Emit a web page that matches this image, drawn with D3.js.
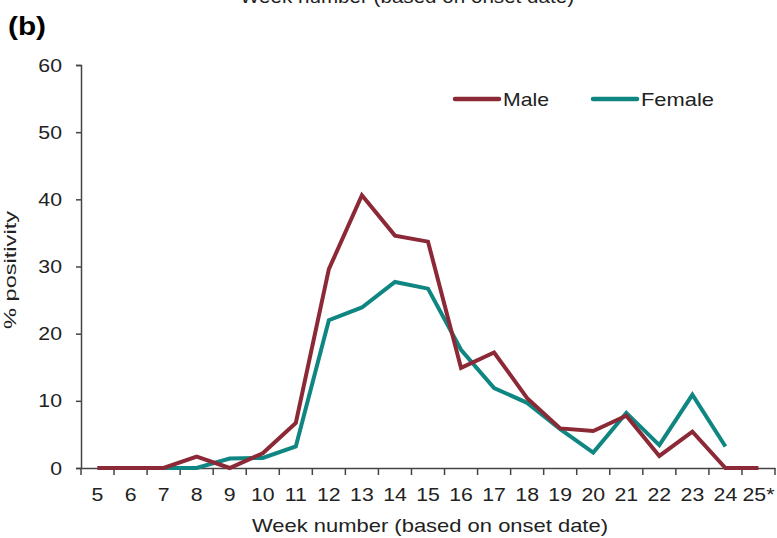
<!DOCTYPE html>
<html>
<head>
<meta charset="utf-8">
<script src="https://cdn.jsdelivr.net/npm/d3@7"></script>
<style>
  body { margin: 0; background: #fff; }
  svg { font-family: "Liberation Sans", Arial, sans-serif; }
</style>
</head>
<body>
<svg width="777" height="538"></svg>
<script>
// weeks on the x axis
var weeks = ["5","6","7","8","9","10","11","12","13","14","15","16","17","18","19","20","21","22","23","24","25*"];
// % positivity by sex
var male =   [0, 0, 0, 1.7, 0, 2.2, 6.7, 29.6, 40.6, 34.6, 33.7, 14.9, 17.2, 10.4, 5.9, 5.5, 7.8, 1.8, 5.4, 0, 0];
var female = [0, 0, 0, 0, 1.4, 1.5, 3.2, 22.0, 23.9, 27.7, 26.7, 17.6, 11.9, 9.7, 5.8, 2.3, 8.2, 3.4, 10.9, 3.2, null];
var yTicks = [0, 10, 20, 30, 40, 50, 60];

var svg = d3.select("svg");
var margin = {top: 65, right: 2, bottom: 70, left: 81};
var width = 777 - margin.left - margin.right;
var height = 538 - margin.top - margin.bottom;

var x = d3.scaleBand().domain(weeks).range([margin.left, margin.left + width]);
var y = d3.scaleLinear().domain([0, 60]).range([margin.top + height, margin.top]);

// text in the original is a bit stretched sideways
var stretch = 1.12;

// cut off heading from the panel above
svg.append("text")
  .attr("x", 407).attr("y", 3)
  .attr("text-anchor", "middle")
  .attr("textLength", 334).attr("lengthAdjust", "spacingAndGlyphs")
  .style("font-size", "19px").attr("fill", "#222")
  .text("Week number (based on onset date)");

svg.append("text")
  .attr("x", 8).attr("y", 35)
  .attr("textLength", 38).attr("lengthAdjust", "spacingAndGlyphs")
  .style("font-size", "25px").style("font-weight", "bold")
  .text("(b)");

// y axis
var yAxis = svg.append("g")
  .attr("transform", "translate(" + margin.left + ",0)")
  .call(d3.axisLeft(y).tickValues(yTicks).tickSize(5).tickPadding(17));
yAxis.select(".domain").attr("stroke", "#444").attr("stroke-width", 1.5);
yAxis.selectAll(".tick line").attr("stroke", "#444").attr("stroke-width", 1.5);
yAxis.selectAll("text")
  .style("font-size", "19px").attr("fill", "#222")
  .attr("x", -19 / stretch)
  .attr("transform", "scale(" + stretch + ",1)");

// x axis, ticks at the band edges
var xAxis = svg.append("g")
  .attr("transform", "translate(0," + (margin.top + height) + ")")
  .call(d3.axisBottom(x).tickSize(0).tickPadding(20));
xAxis.select(".domain").attr("stroke", "#444").attr("stroke-width", 1.5);
xAxis.selectAll("text")
  .style("font-size", "19px").attr("fill", "#222")
  .attr("transform", "scale(" + stretch + ",1)");
var edges = weeks.map(function(w) { return x(w); }).concat([x.range()[1]]);
xAxis.selectAll(".edge").data(edges).enter().append("line")
  .attr("x1", function(d) { return d; }).attr("x2", function(d) { return d; })
  .attr("y1", 0).attr("y2", 7)
  .attr("stroke", "#444").attr("stroke-width", 1.5);

svg.append("text")
  .attr("x", 430).attr("y", 532)
  .attr("text-anchor", "middle")
  .attr("textLength", 356).attr("lengthAdjust", "spacingAndGlyphs")
  .style("font-size", "19px").attr("fill", "#222")
  .text("Week number (based on onset date)");

svg.append("text")
  .attr("transform", "translate(16,270) rotate(-90)")
  .attr("text-anchor", "middle")
  .attr("textLength", 118).attr("lengthAdjust", "spacingAndGlyphs")
  .style("font-size", "17px").attr("fill", "#222")
  .text("% positivity");

var series = [
  {name: "Male", values: male, color: "#8b2937", textW: 46},
  {name: "Female", values: female, color: "#0f8682", textW: 73}
];

var line = d3.line()
  .defined(function(d) { return d != null; })
  .x(function(d, i) { return x(weeks[i]) + x.bandwidth() / 2; })
  .y(function(d) { return y(d); });

// female drawn first so male sits on top
series.slice().reverse().forEach(function(s) {
  svg.append("path")
    .datum(s.values)
    .attr("d", line)
    .attr("fill", "none")
    .attr("stroke", s.color)
    .attr("stroke-width", 4)
    .attr("stroke-linejoin", "miter");
});

// legend
var legendX = [455, 593];
var legend = svg.selectAll(".legend")
  .data(series)
  .enter().append("g")
  .attr("class", "legend")
  .attr("transform", function(d, i) { return "translate(" + legendX[i] + ",99)"; });
legend.append("line")
  .attr("x1", 0).attr("x2", 44)
  .attr("stroke", function(d) { return d.color; })
  .attr("stroke-width", 4.5).attr("stroke-linecap", "round");
legend.append("text")
  .attr("x", 48).attr("y", 7)
  .attr("textLength", function(d) { return d.textW; })
  .attr("lengthAdjust", "spacingAndGlyphs")
  .style("font-size", "19px").attr("fill", "#222")
  .text(function(d) { return d.name; });
</script>
</body>
</html>
